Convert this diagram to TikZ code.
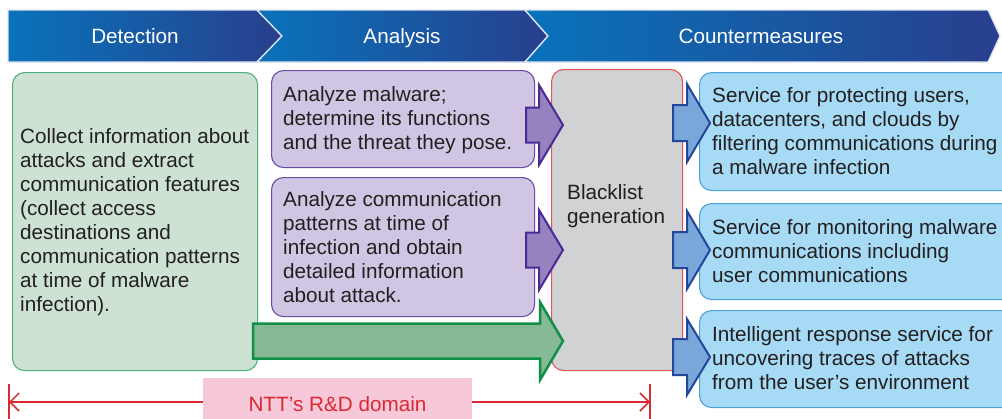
\documentclass[tikz,border=0pt]{standalone}
\usepackage{fontspec}
\setmainfont{Liberation Sans}
\usetikzlibrary{arrows.meta}

\definecolor{txt}{HTML}{231F20}
\definecolor{hdrL}{HTML}{0873BB}
\definecolor{hdrR}{HTML}{283F8C}
\definecolor{hdrEdge}{HTML}{DDE2EE}
\definecolor{grFill}{HTML}{CDE2D3}
\definecolor{grEdge}{HTML}{4DB07C}
\definecolor{grArrFill}{HTML}{86BA96}
\definecolor{grArrEdge}{HTML}{0F8F48}
\definecolor{puFill}{HTML}{D0C6E3}
\definecolor{puEdge}{HTML}{6A4BA8}
\definecolor{puArrFill}{HTML}{9582BF}
\definecolor{puArrEdge}{HTML}{4B2A98}
\definecolor{gyFill}{HTML}{D1D2D4}
\definecolor{gyEdge}{HTML}{E0545A}
\definecolor{blFill}{HTML}{A6DAF5}
\definecolor{blEdge}{HTML}{4DA1D9}
\definecolor{blArrFill}{HTML}{7AA6D9}
\definecolor{blArrEdge}{HTML}{23479B}
\definecolor{pkFill}{HTML}{F7C8D9}
\definecolor{rdLine}{HTML}{D92A32}

% block arrow: #1 style, #2 tail x, #3 head base x, #4 tip x, #5 centre y, #6 half shaft, #7 half head
\newcommand\blockarrow[7]{%
  \draw[#1] (#2,#5-#6) -- (#3,#5-#6) -- (#3,#5-#7) -- (#4,#5)
    -- (#3,#5+#7) -- (#3,#5+#6) -- (#2,#5+#6) -- cycle;}

\begin{document}
\begin{tikzpicture}[x=1pt,y=-1pt,
  font=\fontsize{20.7}{24}\selectfont,
  hdr/.style={left color=hdrL, right color=hdrR, draw=hdrEdge, line width=1.3pt, line join=miter},
  hdrtext/.style={text=white, inner sep=0pt, anchor=base},
  box/.style={rounded corners=12pt, line width=1.1pt, anchor=north west, inner sep=0pt},
  greenbox/.style={box, fill=grFill, draw=grEdge},
  purplebox/.style={box, fill=puFill, draw=puEdge},
  graybox/.style={box, fill=gyFill, draw=gyEdge},
  bluebox/.style={box, fill=blFill, draw=blEdge},
  boxtext/.style={text=txt, anchor=west, align=left, inner sep=0pt},
  purplearrow/.style={fill=puArrFill, draw=puArrEdge, line width=2pt, line join=miter},
  greenarrow/.style={fill=grArrFill, draw=grArrEdge, line width=2.5pt, line join=miter},
  bluearrow/.style={fill=blArrFill, draw=blArrEdge, line width=2pt, line join=miter},
  spanline/.style={rdLine, line width=1.5pt}
]
\clip (0,0) rectangle (1002,418);
\fill[white] (0,0) rectangle (1002,418);

% phase banner
\shadedraw[hdr] (8,10) -- (257,10) -- (282,36) -- (257,62) -- (8,62) -- cycle;
\shadedraw[hdr] (257,10) -- (525,10) -- (548,36) -- (525,62) -- (257,62) -- (282,36) -- cycle;
\shadedraw[hdr] (525,10) -- (988,10) -- (1000,36) -- (988,62) -- (525,62) -- (548,36) -- cycle;
\node[hdrtext] (hdetect) at (135,43.5) {Detection};
\node[hdrtext] (hanalysis) at (402,43.5) {Analysis};
\node[hdrtext] (hcounter) at (761,43.5) {Countermeasures};

% boxes
\node[greenbox, minimum width=245pt, minimum height=298pt] (collect) at (12,72) {};
\node[purplebox, minimum width=263pt, minimum height=97pt] (malware) at (271,70) {};
\node[purplebox, minimum width=263pt, minimum height=139pt] (patterns) at (271,177) {};
\node[graybox, minimum width=131pt, minimum height=301pt] (blacklist) at (551,69) {};
\node[bluebox, minimum width=320pt, minimum height=118pt] (protect) at (699,72) {};
\node[bluebox, minimum width=320pt, minimum height=96pt] (monitor) at (699,203) {};
\node[bluebox, minimum width=320pt, minimum height=97pt] (respond) at (699,310) {};

% box texts
\node[boxtext] (collecttext) at (20,222.5) {Collect information about\\attacks and extract\\communication features\\(collect access\\destinations and\\communication patterns\\at time of malware\\infection).};
\node[boxtext] (malwaretext) at (283,120) {Analyze malware;\\determine its functions\\and the threat they pose.};
\node[boxtext] (patternstext) at (283,247) {Analyze communication\\patterns at time of\\infection and obtain\\detailed information\\about attack.};
\node[boxtext] (blacklisttext) at (567,206) {Blacklist\\generation};
\node[boxtext] (protecttext) at (712,131.5) {Service for protecting users,\\datacenters, and clouds by\\filtering communications during\\a malware infection};
\node[boxtext] (monitortext) at (712,251.5) {Service for monitoring malware\\communications including\\user communications};
\node[boxtext] (respondtext) at (712,358.5) {Intelligent response service for\\uncovering traces of attacks\\from the user’s environment};

% flow arrows
\blockarrow{purplearrow}{526}{539}{563}{125}{17.5}{40}
\blockarrow{purplearrow}{526}{539}{563}{250}{17.5}{40}
\blockarrow{greenarrow}{253}{540}{563}{341}{17.5}{39}
\blockarrow{bluearrow}{673}{687}{710}{123}{18}{39}
\blockarrow{bluearrow}{673}{687}{710}{250}{18}{39}
\blockarrow{bluearrow}{673}{687}{710}{357}{18}{38}

% R&D domain span
\coordinate (spanL) at (9,402);
\coordinate (spanR) at (650,402);
\draw[spanline] (9,384) -- (9,420);
\draw[spanline] (650,384) -- (650,420);
\draw[spanline, {Straight Barb[length=9pt,width=18pt,line width=1.5pt]}-{Straight Barb[length=9pt,width=18pt,line width=1.5pt]}] (spanL) -- (spanR);
\node[fill=pkFill, minimum width=269pt, minimum height=52pt, inner sep=0pt, text=rdLine] (rnd) at (337.5,404) {NTT’s R\&D domain};
\end{tikzpicture}
\end{document}
